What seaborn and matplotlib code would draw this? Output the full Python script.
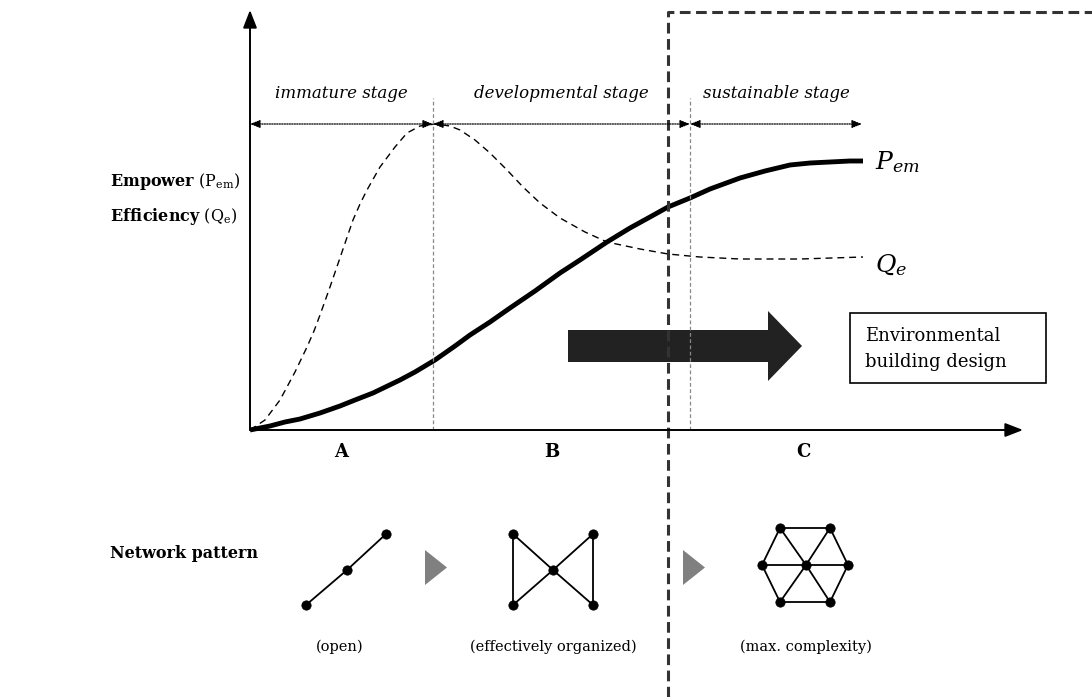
import numpy as np
import pandas as pd
import seaborn as sns
import matplotlib.pyplot as plt
from matplotlib.patches import FancyArrow, Rectangle, Polygon

# curve readings (x = development time, y = level), origin at the axes corner
pem_x = [0, 20, 35, 50, 70, 90, 105, 123, 150, 165, 185, 205, 220, 240, 260, 285,
         310, 330, 357, 380, 400, 418, 440, 460, 490, 515, 540, 560, 580, 600, 613]
pem_y = [0, 4, 8, 11, 17, 24, 30, 37, 50, 58, 70, 84, 95, 108, 122, 139,
         157, 170, 188, 202, 213, 223, 232, 241, 252, 259, 265, 267, 268, 269, 269]
qe_x = [0, 15, 30, 45, 57, 64, 70, 80, 92, 103, 110, 117, 130, 145, 157, 170, 185, 200, 210,
        225, 240, 257, 273, 290, 310, 335, 357, 390, 418, 450, 490, 550, 613]
qe_y = [0, 10, 30, 58, 83, 99, 115, 143, 178, 210, 226, 240, 263, 283, 297, 304, 306, 304, 300,
        290, 277, 260, 243, 227, 212, 198, 188, 181, 176, 173, 171, 171, 173]

stage_names = ["immature stage", "developmental stage", "sustainable stage"]
stage_edges = [0, 183, 440, 612]
phase_labels = ["A", "B", "C"]
phase_x = [91, 302, 553]
ecosystem_x = 418

# network patterns: node positions and edges
open_nodes = [(56, -175), (97, -140), (136, -104)]
open_edges = [(0, 1), (1, 2)]
bow_nodes = [(263, -104), (343, -104), (303, -140), (263, -175), (343, -175)]
bow_edges = [(0, 3), (1, 4), (0, 2), (2, 4), (1, 2), (2, 3)]
hex_nodes = [(556, -135), (530, -98), (580, -98), (598, -135), (580, -172), (530, -172), (512, -135)]
hex_edges = [(1, 2), (2, 3), (3, 4), (4, 5), (5, 6), (6, 1), (0, 1), (0, 2), (0, 3), (0, 4), (0, 5), (0, 6)]
pattern_names = ["(open)", "(effectively organized)", "(max. complexity)"]
pattern_x = [90, 303, 556]

sns.set_theme(style="white")
plt.rcParams["font.family"] = ["DejaVu Serif"]
plt.rcParams["mathtext.fontset"] = "dejavuserif"
plt.rcParams["text.color"] = "black"

fig = plt.figure(figsize=(10.92, 6.97), dpi=100)
ax = fig.add_axes([0, 0, 1, 1])
ax.set_xlim(-250, 842)
ax.set_ylim(-267, 430)
ax.axis("off")

curves = pd.concat([
    pd.DataFrame({"t": pem_x, "v": pem_y, "s": "Pem"}),
    pd.DataFrame({"t": qe_x, "v": qe_y, "s": "Qe"}),
])
sns.lineplot(data=curves[curves.s == "Pem"], x="t", y="v", color="black", lw=3.5,
             ax=ax, legend=False, sort=False, solid_capstyle="butt", solid_joinstyle="round")
sns.lineplot(data=curves[curves.s == "Qe"], x="t", y="v", color="black", lw=1.0,
             ax=ax, legend=False, sort=False, dashes=False, linestyle=(0, (5, 3.5)))

# axes arrows
ax.annotate("", xy=(0, 420), xytext=(0, 0),
            arrowprops=dict(arrowstyle="-|>,head_length=0.9,head_width=0.35", color="black", lw=1.4, shrinkA=0, shrinkB=0))
ax.annotate("", xy=(773, 0), xytext=(0, 0),
            arrowprops=dict(arrowstyle="-|>,head_length=0.9,head_width=0.35", color="black", lw=1.4, shrinkA=0, shrinkB=0))

# stage dividers and arrows
for xb in stage_edges[1:3]:
    ax.plot([xb, xb], [0, 332], color="#888888", lw=0.9, ls=(0, (3, 2)))
for i, name in enumerate(stage_names):
    x0, x1 = stage_edges[i], stage_edges[i + 1]
    ax.annotate("", xy=(x1, 306), xytext=(x0, 306),
                arrowprops=dict(arrowstyle="<|-|>,head_length=0.5,head_width=0.2", color="black",
                                lw=0.9, ls=(0, (1, 1)), shrinkA=0, shrinkB=0))
    ax.text((x0 + x1) / 2, 336, name, ha="center", va="center", style="italic", fontsize=12)

for lab, xl in zip(phase_labels, phase_x):
    ax.text(xl, -22, lab, ha="center", va="center", fontweight="bold", fontsize=13)

# ecosystem boundary
ax.plot([ecosystem_x, ecosystem_x, 842], [-267, 418, 418], color="#333333", lw=2.2,
        ls=(0, (3.5, 1.8)))

# curve labels
ax.text(625, 268, r"$P_{em}$", fontsize=18, va="center", ha="left")
ax.text(625, 165, r"$Q_e$", fontsize=18, va="center", ha="left")

# left labels
ax.text(-140, 248, r"$\mathbf{Empower}$ (P$_{\mathrm{em}}$)", fontsize=11.5, ha="left", va="center")
ax.text(-140, 213, r"$\mathbf{Efficiency}$ (Q$_{\mathrm{e}}$)", fontsize=11.5, ha="left", va="center")
ax.text(-140, -123, "Network pattern", fontweight="bold", fontsize=11.5, ha="left", va="center")

# design arrow and box
ax.add_patch(FancyArrow(318, 84, 234, 0, width=32, head_width=70, head_length=34,
                        length_includes_head=True, color="#222222", lw=0))
ax.add_patch(Rectangle((600, 47), 196, 70, fill=False, ec="black", lw=1.2))
ax.text(615, 94, "Environmental", fontsize=13, va="center", ha="left")
ax.text(615, 68, "building design", fontsize=13, va="center", ha="left")

# network patterns
for nodes, edges in [(open_nodes, open_edges), (bow_nodes, bow_edges), (hex_nodes, hex_edges)]:
    for a, b in edges:
        ax.plot([nodes[a][0], nodes[b][0]], [nodes[a][1], nodes[b][1]], color="black", lw=1.3)
    nx_, ny_ = zip(*nodes)
    sns.scatterplot(x=list(nx_), y=list(ny_), color="black", s=45, ax=ax, edgecolor="black", zorder=3)

for tx in [175, 433]:
    ax.add_patch(Polygon([(tx, -120), (tx, -155), (tx + 22, -137.5)], closed=True, color="#808080", lw=0))

for name, xp in zip(pattern_names, pattern_x):
    ax.text(xp, -217, name, ha="center", va="center", fontsize=10.5)

fig.savefig("out.png", dpi=100)
